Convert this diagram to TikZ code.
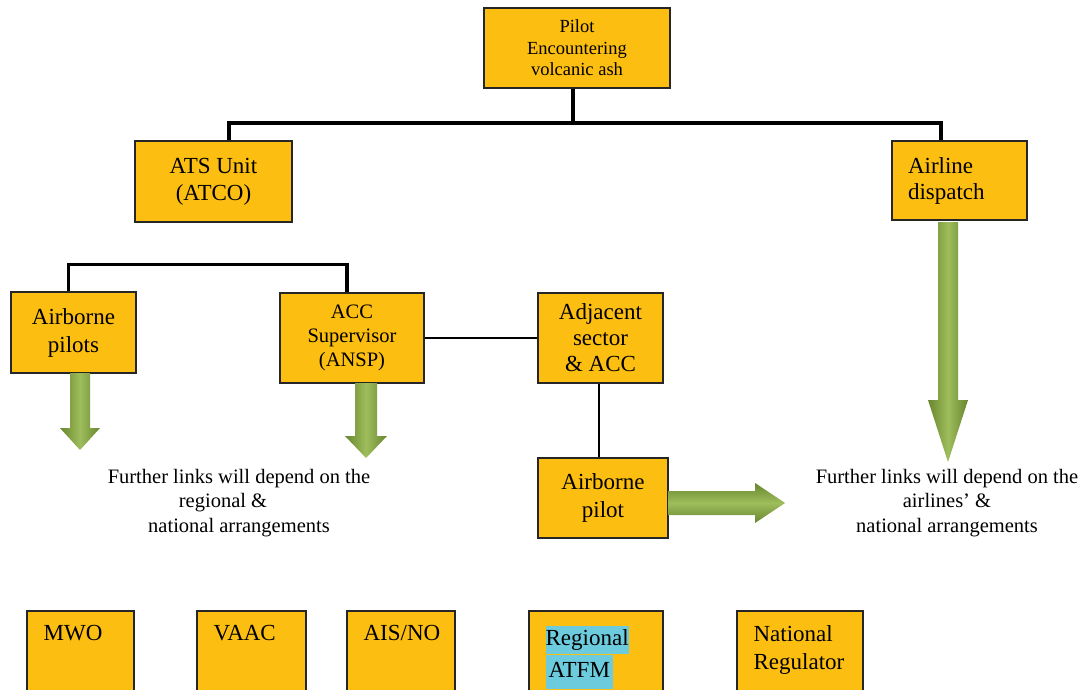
\documentclass[tikz,border=0pt]{standalone}
\usepackage{fontspec}
\setmainfont{Liberation Serif}
\usepackage{tikz}
\usetikzlibrary{positioning,calc}
\definecolor{boxgold}{RGB}{252,190,16}
\definecolor{arrowdark}{RGB}{104,134,46}
\definecolor{arrowlight}{RGB}{158,189,92}
\definecolor{hilite}{RGB}{108,203,220}

\begin{document}
\begin{tikzpicture}[x=1pt, y=-1pt, line join=miter]
\tikzstyle{box} = [rectangle, fill=boxgold, draw=black!85, line width=1.2pt, align=center, inner sep=0pt]
\tikzstyle{lowbox} = [box, minimum height=89pt]
\tikzstyle{lowtext} = [anchor=north west, align=left, inner sep=0pt, xshift=17pt, yshift=-15pt, font={\fontsize{23}{28}\selectfont}]
\tikzstyle{note} = [align=center, inner sep=0pt, font={\fontsize{20.5}{24.5}\selectfont}]
\tikzset{trunk/.style={line width=4pt}, bus/.style={line width=3pt}, link/.style={line width=2.5pt},
  vgreen/.style={left color=arrowdark, right color=arrowdark, middle color=arrowlight, draw=none},
  hgreen/.style={top color=arrowdark, bottom color=arrowdark, middle color=arrowlight, draw=none}}
\useasboundingbox (0,0) rectangle (1085,690);
\fill[white] (0,0) rectangle (1085,690);
% top row
\node[box, minimum width=186pt, minimum height=80pt, font={\fontsize{18.5}{21.5}\selectfont}] (pilot) at (577,48) {Pilot\\Encountering\\volcanic ash};
\node[box, minimum width=157pt, minimum height=81pt, font={\fontsize{23}{27}\selectfont}] (ats) at (213.5,181.5) {ATS Unit\\(ATCO)};
\node[box, text width=103pt, inner xsep=16pt, minimum height=79pt, align=left, font={\fontsize{23}{26}\selectfont}] (airline) at (959.5,180.5) {Airline\\dispatch};
% middle row
\node[box, minimum width=125pt, minimum height=81pt, font={\fontsize{23}{28}\selectfont}] (ap) at (73.5,332.5) {Airborne\\pilots};
\node[box, minimum width=144pt, minimum height=90pt, font={\fontsize{20.5}{24}\selectfont}] (acc) at (352,338) {ACC\\Supervisor\\(ANSP)};
\node[box, minimum width=125pt, minimum height=90pt, font={\fontsize{23}{26}\selectfont}] (adj) at (600.5,338) {Adjacent\\sector\\\& ACC};
\node[box, minimum width=130pt, minimum height=80pt, font={\fontsize{23}{28}\selectfont}] (apl) at (603,498) {Airborne\\pilot};
% notes
\node[note] (regnote) at (239,503) {Further links will depend on the\\regional \&\hspace*{32pt}\mbox{}\\national arrangements};
\node[note] (airnote) at (947,503) {Further links will depend on the\\airlines' \&\\national arrangements};
% bottom row
\node[lowbox, minimum width=107pt] (mwo) at (80.5,655.5) {};
\node[lowbox, minimum width=109pt] (vaac) at (251.5,655.5) {};
\node[lowbox, minimum width=108pt] (ais) at (401,655.5) {};
\node[lowbox, minimum width=134pt] (atfm) at (596,655.5) {};
\node[lowbox, minimum width=126pt] (reg) at (800,655.5) {};
\node[lowtext] at (mwo.north west) {MWO};
\node[lowtext] at (vaac.north west) {VAAC};
\node[lowtext] at (ais.north west) {AIS/NO};
\node[lowtext] at (atfm.north west) {\setlength{\fboxsep}{0pt}\colorbox{hilite}{\strut Regional}\\\colorbox{hilite}{\strut ATFM}};
\node[lowtext] at (reg.north west) {National\\Regulator};
% connectors
\draw[trunk] ([xshift=-4]pilot.south) -- ++(0,34) -| ([xshift=15.5]ats.north);
\draw[trunk] ([xshift=-4]pilot.south) -- ++(0,34) -| ([xshift=-18.5]airline.north);
\draw[bus] ([xshift=-5.5]ap.north) -- ++(0,-27) -| ([xshift=-5]acc.north);
\draw[trunk] ([xshift=-5]acc.north) -- ++(0,-28);
\draw[link] (acc.east) -- (adj.west);
\draw[link] ([xshift=-1.5]adj.south) -- ([xshift=-1.5]adj.south |- apl.north);
% fat arrows
\coordinate (apTip) at (80,450);
\coordinate (accTip) at (366,458);
\coordinate (airTip) at (948,462);
\coordinate (aplTip) at (785,503);
\shade[vgreen] (apTip) -- ++(-20,-22) -- ++(10,0) -- ++(0,-55) -- ++(20,0) -- ++(0,55) -- ++(10,0) -- cycle;
\shade[vgreen] (accTip) -- ++(-21,-22) -- ++(10,0) -- ++(0,-53) -- ++(22,0) -- ++(0,53) -- ++(10,0) -- cycle;
\shade[vgreen] (airTip) -- ++(-20,-62) -- ++(10,0) -- ++(0,-178) -- ++(20,0) -- ++(0,178) -- ++(10,0) -- cycle;
\shade[hgreen] (aplTip) -- ++(-30,-20) -- ++(0,8) -- ++(-87,0) -- ++(0,24) -- ++(87,0) -- ++(0,8) -- cycle;
\end{tikzpicture}
\end{document}
